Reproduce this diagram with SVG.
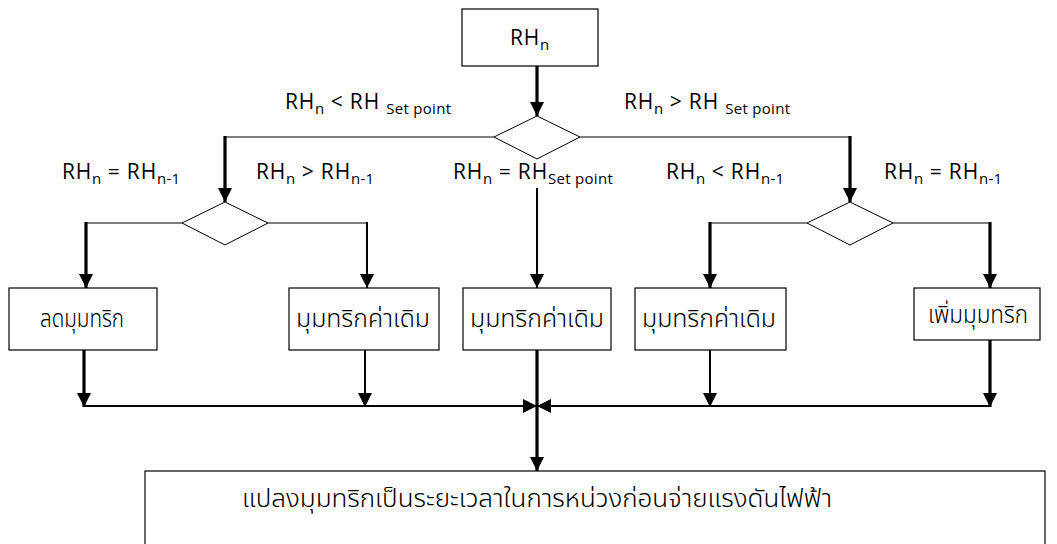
<svg xmlns="http://www.w3.org/2000/svg" width="1057" height="544" viewBox="0 0 1057 544">
  <defs>
    <marker id="arrow" markerUnits="userSpaceOnUse" markerWidth="14" markerHeight="16" refX="14" refY="7" orient="auto">
      <path d="M0,0 L14,7 L0,14 Z" fill="#000"/>
    </marker>
    <style>
      .box { fill: #fff; stroke: #000; stroke-width: 1.2; }
      .dec { fill: #fff; stroke: #000; stroke-width: 1; }
      .thin { fill: none; stroke: #000; stroke-width: 1.2; }
      .mid { fill: none; stroke: #000; stroke-width: 2; }
      .thick { fill: none; stroke: #000; stroke-width: 3.2; }
      .lbl { font-family: "Open Sans", "Liberation Sans", sans-serif; font-size: 21px; letter-spacing: 0.8px; fill: #000; }
      .sub { font-size: 15px; letter-spacing: 0.3px; }
      .th { font-family: "Noto Sans Thai", "Noto Serif Thai", "Loma", "Garuda", "DejaVu Sans", sans-serif; font-size: 24px; font-weight: 300; fill: #000; text-anchor: middle; }
    </style>
  </defs>

  <rect width="1057" height="544" fill="#fff"/>

  <!-- connectors -->
  <g id="connectors">
    <!-- start to first decision -->
    <line class="thick" x1="537" y1="66" x2="537" y2="116" marker-end="url(#arrow)"/>
    <!-- first decision branches -->
    <polyline class="thin" points="494,137 225,137"/>
    <polyline class="thin" points="580,137 850,137"/>
    <line class="thick" x1="225" y1="136" x2="225" y2="202" marker-end="url(#arrow)"/>
    <line class="thick" x1="850" y1="136" x2="850" y2="202" marker-end="url(#arrow)"/>
    <line class="mid" x1="537" y1="188" x2="537" y2="288" marker-end="url(#arrow)"/>
    <!-- left decision branches -->
    <polyline class="thin" points="182,223 86,223"/>
    <polyline class="thin" points="268,223 367,223"/>
    <line class="thick" x1="86" y1="222" x2="86" y2="288" marker-end="url(#arrow)"/>
    <line class="mid" x1="367" y1="222" x2="367" y2="288" marker-end="url(#arrow)"/>
    <!-- right decision branches -->
    <polyline class="thin" points="807,223 710,223"/>
    <polyline class="thin" points="893,223 990,223"/>
    <line class="thick" x1="710" y1="222" x2="710" y2="288" marker-end="url(#arrow)"/>
    <line class="thick" x1="990" y1="222" x2="990" y2="288" marker-end="url(#arrow)"/>
    <!-- outputs to collector bus -->
    <line class="thick" x1="84" y1="350" x2="84" y2="407" marker-end="url(#arrow)"/>
    <line class="mid" x1="365" y1="350" x2="365" y2="407" marker-end="url(#arrow)"/>
    <line class="mid" x1="710" y1="350" x2="710" y2="407" marker-end="url(#arrow)"/>
    <line class="thick" x1="990" y1="340" x2="990" y2="407" marker-end="url(#arrow)"/>
    <line class="mid" x1="84" y1="406" x2="537" y2="406" marker-end="url(#arrow)"/>
    <line class="mid" x1="990" y1="406" x2="537" y2="406" marker-end="url(#arrow)"/>
    <!-- centre path to final step -->
    <line class="thick" x1="537" y1="350" x2="537" y2="471" marker-end="url(#arrow)"/>
  </g>

  <!-- nodes -->
  <g id="start">
    <rect class="box" x="462" y="9" width="136" height="57"/>
    <text class="lbl" x="510" y="45">RH<tspan class="sub" dy="5">n</tspan></text>
  </g>

  <g id="decision-setpoint">
    <polygon class="dec" points="537,116 580,137 537,159 494,137"/>
  </g>
  <g id="decision-low">
    <polygon class="dec" points="225,202 268,223 225,245 182,223"/>
  </g>
  <g id="decision-high">
    <polygon class="dec" points="850,202 893,223 850,245 807,223"/>
  </g>

  <g id="decrease">
    <rect class="box" x="9" y="288" width="148" height="62"/>
    <text class="th" x="82" y="327" textLength="84" lengthAdjust="spacingAndGlyphs">ลดมุมทริก</text>
  </g>
  <g id="hold-left">
    <rect class="box" x="289" y="288" width="150" height="62"/>
    <text class="th" x="363" y="327" textLength="134" lengthAdjust="spacingAndGlyphs">มุมทริกค่าเดิม</text>
  </g>
  <g id="hold-centre">
    <rect class="box" x="463" y="288" width="148" height="62"/>
    <text class="th" x="537" y="327" textLength="134" lengthAdjust="spacingAndGlyphs">มุมทริกค่าเดิม</text>
  </g>
  <g id="hold-right">
    <rect class="box" x="635" y="288" width="151" height="62"/>
    <text class="th" x="709" y="327" textLength="134" lengthAdjust="spacingAndGlyphs">มุมทริกค่าเดิม</text>
  </g>
  <g id="increase">
    <rect class="box" x="914" y="288" width="126" height="52"/>
    <text class="th" x="978" y="323" textLength="100" lengthAdjust="spacingAndGlyphs">เพิ่มมุมทริก</text>
  </g>

  <g id="convert">
    <rect class="box" x="145" y="471" width="900" height="100"/>
    <text class="th" x="537" y="507" textLength="590" lengthAdjust="spacingAndGlyphs">แปลงมุมทริกเป็นระยะเวลาในการหน่วงก่อนจ่ายแรงดันไฟฟ้า</text>
  </g>

  <!-- branch conditions -->
  <g id="labels">
    <text class="lbl" x="285" y="109">RH<tspan class="sub" dy="5">n</tspan><tspan dy="-5"> &lt; RH </tspan><tspan class="sub" dy="5">Set point</tspan></text>
    <text class="lbl" x="624" y="109">RH<tspan class="sub" dy="5">n</tspan><tspan dy="-5"> &gt; RH </tspan><tspan class="sub" dy="5">Set point</tspan></text>
    <text class="lbl" x="62" y="179">RH<tspan class="sub" dy="5">n</tspan><tspan dy="-5"> = RH</tspan><tspan class="sub" dy="5">n-1</tspan></text>
    <text class="lbl" x="256" y="179">RH<tspan class="sub" dy="5">n</tspan><tspan dy="-5"> &gt; RH</tspan><tspan class="sub" dy="5">n-1</tspan></text>
    <text class="lbl" x="453" y="179">RH<tspan class="sub" dy="5">n</tspan><tspan dy="-5"> = RH</tspan><tspan class="sub" dy="5">Set point</tspan></text>
    <text class="lbl" x="666" y="179">RH<tspan class="sub" dy="5">n</tspan><tspan dy="-5"> &lt; RH</tspan><tspan class="sub" dy="5">n-1</tspan></text>
    <text class="lbl" x="884" y="179">RH<tspan class="sub" dy="5">n</tspan><tspan dy="-5"> = RH</tspan><tspan class="sub" dy="5">n-1</tspan></text>
  </g>
</svg>
